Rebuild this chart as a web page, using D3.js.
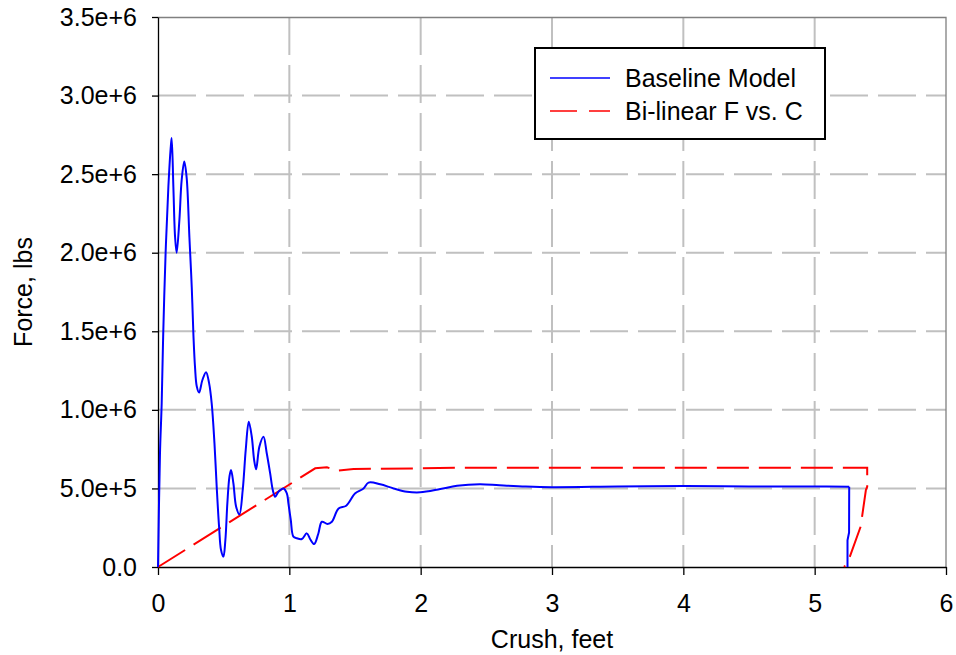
<!DOCTYPE html>
<html>
<head>
<meta charset="utf-8">
<script src="https://cdn.jsdelivr.net/npm/d3@7"></script>
<style>
  body { margin: 0; background: #fff; }
  svg { display: block; font-family: "Liberation Sans", Arial, sans-serif; }
  .axis text { font-size: 25px; fill: #000; }
  .axis path, .axis line { stroke: #000; stroke-width: 1.3; }
</style>
</head>
<body>
<div id="chart"></div>
<script>
// crush (feet) / force (lbs)
const baselineCrush = [0, 0.015, 0.028, 0.04, 0.058, 0.079, 0.097, 0.104, 0.117, 0.13, 0.142, 0.163, 0.18, 0.2, 0.218, 0.239, 0.257, 0.27, 0.282, 0.295, 0.313, 0.338, 0.366, 0.389, 0.409, 0.43, 0.447, 0.465, 0.48, 0.498, 0.513, 0.528, 0.544, 0.556, 0.574, 0.595, 0.62, 0.645, 0.668, 0.691, 0.714, 0.732, 0.747, 0.772, 0.803, 0.828, 0.854, 0.874, 0.892, 0.917, 0.955, 0.981, 0.993, 1.011, 1.031, 1.057, 1.095, 1.133, 1.16, 1.189, 1.22, 1.248, 1.29, 1.324, 1.375, 1.433, 1.502, 1.565, 1.603, 1.692, 1.794, 1.896, 1.997, 2.149, 2.277, 2.45, 2.6, 2.8, 3.0, 3.5, 4.0, 4.5, 5.0, 5.263, 5.262, 5.25, 5.25]
const baselineForce = [0, 720000, 1040000, 1490000, 2000000, 2420000, 2670000, 2730000, 2420000, 2100000, 2000000, 2210000, 2460000, 2580000, 2480000, 2100000, 1780000, 1470000, 1270000, 1150000, 1110000, 1190000, 1240000, 1170000, 1040000, 787000, 510000, 257000, 108000, 66000, 172000, 405000, 575000, 617000, 533000, 384000, 335000, 490000, 745000, 925000, 829000, 681000, 622000, 766000, 829000, 724000, 596000, 490000, 447000, 479000, 500000, 469000, 405000, 299000, 193000, 183000, 178000, 214000, 175000, 146000, 210000, 288000, 274000, 288000, 373000, 390000, 469000, 500000, 537000, 526000, 500000, 479000, 475000, 496000, 517000, 527000, 520000, 512000, 508000, 512000, 515000, 513000, 512000, 511000, 220000, 170000, 0]

const bilinearCrush = [0, 1.197, 1.286, 1.362, 1.489, 1.997, 2.277, 5.4, 5.4, 5.39, 5.35, 5.263, 5.225]
const bilinearForce = [0, 628000, 635000, 613000, 624000, 628000, 632000, 632000, 511000, 490000, 257000, 55000, 0]

const xTicks = [0, 1, 2, 3, 4, 5, 6]
const yTicks = [0, 500000, 1000000, 1500000, 2000000, 2500000, 3000000, 3500000]
const yTickLabels = ["0.0", "5.0e+5", "1.0e+6", "1.5e+6", "2.0e+6", "2.5e+6", "3.0e+6", "3.5e+6"]

const seriesNames = ["Baseline Model", "Bi-linear F vs. C"]
const seriesColors = ["#0000ff", "#ff0000"]

const W = 956, H = 655
const margin = { top: 17, right: 10, bottom: 88, left: 158 }
const width = W - margin.left - margin.right
const height = H - margin.top - margin.bottom

const svg = d3.select("#chart").append("svg")
  .attr("width", W)
  .attr("height", H)

const g = svg.append("g")
  .attr("transform", `translate(${margin.left},${margin.top})`)

const x = d3.scaleLinear().domain([0, 6]).range([0, width])
const y = d3.scaleLinear().domain([0, 3500000]).range([height, 0])

// grid
g.append("g").selectAll("line")
  .data(yTicks.filter(d => d > 0 && d < 3500000))
  .join("line")
  .attr("x1", 0).attr("x2", width)
  .attr("y1", d => y(d)).attr("y2", d => y(d))
  .attr("stroke", "#c0c0c0").attr("stroke-width", 2)
  .attr("stroke-dasharray", "38,10")

g.append("g").selectAll("line")
  .data(xTicks.filter(d => d > 0 && d < 6))
  .join("line")
  .attr("x1", d => x(d)).attr("x2", d => x(d))
  .attr("y1", 0).attr("y2", height)
  .attr("stroke", "#c0c0c0").attr("stroke-width", 2)
  .attr("stroke-dasharray", "38,10")

// plot border top/right
g.append("path")
  .attr("d", `M0,0.5H${width}V${height}`)
  .attr("fill", "none")
  .attr("stroke", "#808080")
  .attr("stroke-width", 1.3)

// axes
g.append("g")
  .attr("class", "axis")
  .attr("transform", `translate(0,${height})`)
  .call(d3.axisBottom(x).tickValues(xTicks).tickFormat(d3.format("d")).tickSizeInner(8).tickSizeOuter(0).tickPadding(19))

g.append("g")
  .attr("class", "axis")
  .call(d3.axisLeft(y).tickValues(yTicks).tickFormat((d, i) => yTickLabels[i]).tickSizeInner(6).tickSizeOuter(0).tickPadding(15))

// series
const blue = baselineCrush.map((c, i) => [c, baselineForce[i]])
const red = bilinearCrush.map((c, i) => [c, bilinearForce[i]])
// the smooth part ends where the vertical unloading drop starts
const dropAt = baselineCrush.indexOf(5.263)

g.append("path")
  .datum(red)
  .attr("fill", "none")
  .attr("stroke", seriesColors[1])
  .attr("stroke-width", 2)
  .attr("stroke-dasharray", "32,10")
  .attr("d", d3.line().x(d => x(d[0])).y(d => y(d[1])))

g.append("path")
  .datum(blue.slice(0, dropAt + 1))
  .attr("fill", "none")
  .attr("stroke", seriesColors[0])
  .attr("stroke-width", 2)
  .attr("stroke-linejoin", "round")
  .attr("d", d3.line().curve(d3.curveCatmullRom.alpha(0.5)).x(d => x(d[0])).y(d => y(d[1])))

g.append("path")
  .datum(blue.slice(dropAt))
  .attr("fill", "none")
  .attr("stroke", seriesColors[0])
  .attr("stroke-width", 2)
  .attr("stroke-linejoin", "round")
  .attr("d", d3.line().x(d => x(d[0])).y(d => y(d[1])))

// axis titles
svg.append("text")
  .attr("x", margin.left + width / 2)
  .attr("y", 648)
  .attr("text-anchor", "middle")
  .attr("font-size", 25)
  .text("Crush, feet")

svg.append("text")
  .attr("transform", `translate(32,${margin.top + height / 2}) rotate(-90)`)
  .attr("text-anchor", "middle")
  .attr("font-size", 25)
  .text("Force, lbs")

// legend
const legend = svg.append("g")
legend.append("rect")
  .attr("x", 535).attr("y", 48)
  .attr("width", 290).attr("height", 91)
  .attr("fill", "#fff")
  .attr("stroke", "#000")
  .attr("stroke-width", 2)

seriesNames.forEach((name, i) => {
  const ly = 78 + i * 33
  legend.append("line")
    .attr("x1", 550).attr("x2", 610)
    .attr("y1", ly).attr("y2", ly)
    .attr("stroke", seriesColors[i])
    .attr("stroke-width", 1.5)
    .attr("stroke-dasharray", i === 1 ? "27,12" : null)
  legend.append("text")
    .attr("x", 625).attr("y", ly + 9)
    .attr("font-size", 25)
    .text(name)
})
</script>
</body>
</html>
